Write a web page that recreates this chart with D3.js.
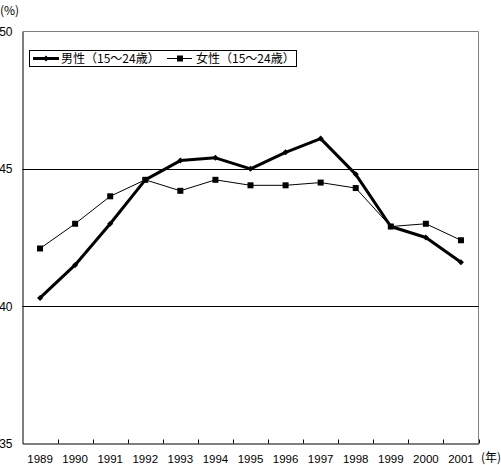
<!DOCTYPE html>
<html><head><meta charset="utf-8">
<script src="https://cdn.jsdelivr.net/npm/d3@7"></script>
<style>body{margin:0;background:#fff}svg{display:block}text{font-family:"Noto Sans CJK JP","DejaVu Sans",sans-serif;fill:#000}</style>
</head><body>
<script>
const years = ["1989","1990","1991","1992","1993","1994","1995","1996","1997","1998","1999","2000","2001"];
const male = [40.3,41.5,43.0,44.6,45.3,45.4,45.0,45.6,46.1,44.8,42.9,42.5,41.6];
const female = [42.1,43.0,44.0,44.6,44.2,44.6,44.4,44.4,44.5,44.3,42.9,43.0,42.4];
const yTicks = [35,40,45,50];
const seriesNames = ["男性（15～24歳）","女性（15～24歳）"];

const W=501,H=465;
const svg=d3.select("body").append("svg").attr("width",W).attr("height",H);
const L=22.5,R=478.5,T=31.5,B=443.5;
const x=d3.scaleBand().domain(years).range([L,R]);
const y=d3.scaleLinear().domain([35,50]).range([B,T]);

// top/right border gray
svg.append("path").attr("d",`M${L},${T}H${R}V${B}`).attr("fill","none").attr("stroke","#808080").attr("stroke-width",1);
// gridlines
svg.selectAll(".g").data([40,45]).enter().append("line")
  .attr("x1",L).attr("x2",R).attr("y1",d=>Math.round(y(d))+0.5).attr("y2",d=>Math.round(y(d))+0.5)
  .attr("stroke","#000").attr("stroke-width",1);

// y axis
const ya=svg.append("g").attr("transform",`translate(${L},0)`)
  .call(d3.axisLeft(y).tickValues(yTicks).tickSize(0).tickPadding(10).tickFormat(d3.format("d")));
ya.select(".domain").attr("stroke","#000");
ya.selectAll("text").attr("font-size",12).attr("x",-10).attr("text-anchor","end").style("font-family","'Liberation Sans',Arial,sans-serif");

// x axis
const xa=svg.append("g").attr("transform",`translate(0,${B})`)
  .call(d3.axisBottom(x).tickSize(0));
xa.select(".domain").attr("stroke","#000");
xa.selectAll("text").attr("font-size",11.5).attr("y",19).attr("dy",0).style("font-family","'Liberation Sans',Arial,sans-serif");
// inward ticks at category boundaries
const bounds=years.map(d=>x(d)).concat([R]).slice(1);
svg.selectAll(".xt").data(bounds).enter().append("line")
  .attr("x1",d=>Math.round(d)+0.5).attr("x2",d=>Math.round(d)+0.5).attr("y1",B).attr("y2",B-4).attr("stroke","#000");

svg.append("text").attr("x",0).attr("y",15).attr("font-size",12).text("(%)");
svg.append("text").attr("x",481).attr("y",462).attr("font-size",12).text("(年)");

const cx=d=>x(d)+x.bandwidth()/2;
const line=vals=>d3.line().x((d,i)=>cx(years[i])).y(d=>y(d))(vals);

svg.append("path").attr("d",line(female)).attr("fill","none").attr("stroke","#000").attr("stroke-width",1);
svg.selectAll(".fm").data(female).enter().append("rect")
  .attr("x",(d,i)=>cx(years[i])-3).attr("y",d=>y(d)-3).attr("width",6).attr("height",6).attr("fill","#000");

svg.append("path").attr("d",line(male)).attr("fill","none").attr("stroke","#000").attr("stroke-width",3).attr("stroke-linejoin","round");
svg.selectAll(".mm").data(male).enter().append("path")
  .attr("d",(d,i)=>{const px=cx(years[i]),py=y(d);return `M${px-3},${py}L${px},${py-3}L${px+3},${py}L${px},${py+3}Z`;})
  .attr("fill","#000");

// legend
const lg=svg.append("g");
lg.append("rect").attr("x",29.5).attr("y",50.5).attr("width",267).attr("height",16).attr("fill","#fff").attr("stroke","#000");
lg.append("line").attr("x1",33).attr("x2",59).attr("y1",58.5).attr("y2",58.5).attr("stroke","#000").attr("stroke-width",3);
lg.append("path").attr("d","M43,58.5L46,55.5L49,58.5L46,61.5Z").attr("fill","#000");
lg.append("text").attr("x",61).attr("y",63).attr("font-size",12).text(seriesNames[0]);
lg.append("line").attr("x1",167).attr("x2",192).attr("y1",58.5).attr("y2",58.5).attr("stroke","#000").attr("stroke-width",1);
lg.append("rect").attr("x",177).attr("y",55.5).attr("width",6).attr("height",6).attr("fill","#000");
lg.append("text").attr("x",196).attr("y",63).attr("font-size",12).text(seriesNames[1]);
</script>
</body></html>
